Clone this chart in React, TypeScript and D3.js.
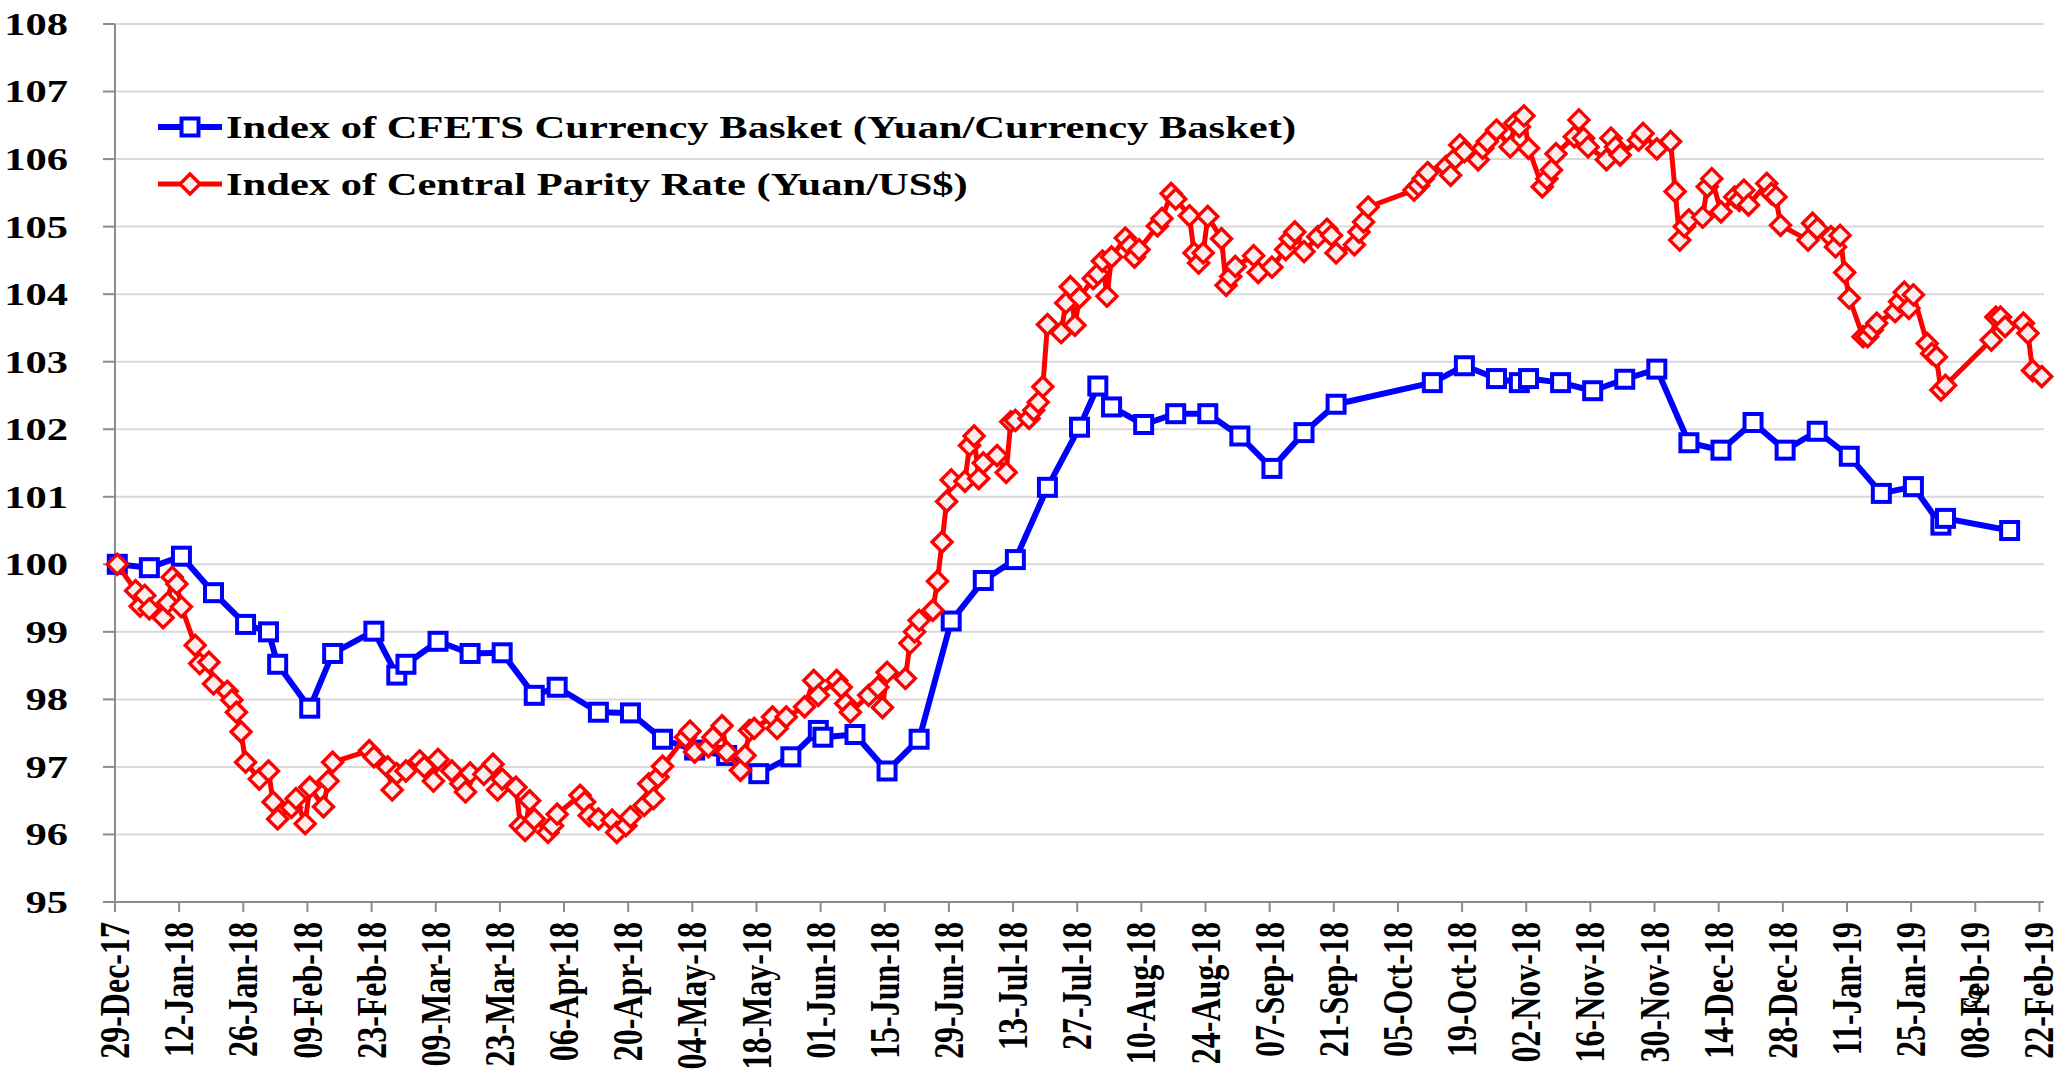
import React, { useEffect } from 'react';
import * as d3 from 'd3';

const W = 2063;
const H = 1069;

const yTickValues = [95, 96, 97, 98, 99, 100, 101, 102, 103, 104, 105, 106, 107, 108];
const xTickLabels = [
  '29-Dec-17', '12-Jan-18', '26-Jan-18', '09-Feb-18', '23-Feb-18', '09-Mar-18', '23-Mar-18', '06-Apr-18',
  '20-Apr-18', '04-May-18', '18-May-18', '01-Jun-18', '15-Jun-18', '29-Jun-18', '13-Jul-18', '27-Jul-18',
  '10-Aug-18', '24-Aug-18', '07-Sep-18', '21-Sep-18', '05-Oct-18', '19-Oct-18', '02-Nov-18', '16-Nov-18',
  '30-Nov-18', '14-Dec-18', '28-Dec-18', '11-Jan-19', '25-Jan-19', '08-Feb-19', '22-Feb-19',
];

const seriesNames = [
  'Index of CFETS Currency Basket (Yuan/Currency Basket)',
  'Index of Central Parity Rate (Yuan/US$)',
];

const cfetsDates = [
  '2017-12-29', '2018-01-05', '2018-01-12', '2018-01-19', '2018-01-26', '2018-01-31', '2018-02-02', '2018-02-09',
  '2018-02-14', '2018-02-23', '2018-02-28', '2018-03-02', '2018-03-09', '2018-03-16', '2018-03-23', '2018-03-30',
  '2018-04-04', '2018-04-13', '2018-04-20', '2018-04-27', '2018-05-04', '2018-05-11', '2018-05-18', '2018-05-25',
  '2018-05-31', '2018-06-01', '2018-06-08', '2018-06-15', '2018-06-22', '2018-06-29', '2018-07-06', '2018-07-13',
  '2018-07-20', '2018-07-27', '2018-07-31', '2018-08-03', '2018-08-10', '2018-08-17', '2018-08-24', '2018-08-31',
  '2018-09-07', '2018-09-14', '2018-09-21', '2018-10-12', '2018-10-19', '2018-10-26', '2018-10-31', '2018-11-02',
  '2018-11-09', '2018-11-16', '2018-11-23', '2018-11-30', '2018-12-07', '2018-12-14', '2018-12-21', '2018-12-28',
  '2019-01-04', '2019-01-11', '2019-01-18', '2019-01-25', '2019-01-31', '2019-02-01', '2019-02-15',
];
const cfetsValues = [
  100.0, 99.95, 100.12, 99.58, 99.11, 99.0, 98.52, 97.87,
  98.68, 99.01, 98.36, 98.52, 98.86, 98.68, 98.69, 98.06,
  98.18, 97.81, 97.8, 97.41, 97.25, 97.17, 96.9, 97.15,
  97.54, 97.44, 97.48, 96.94, 97.41, 99.16, 99.76, 100.07,
  101.14, 102.03, 102.64, 102.33, 102.07, 102.23, 102.23, 101.9,
  101.42, 101.95, 102.37, 102.69, 102.94, 102.75, 102.69, 102.75,
  102.69, 102.57, 102.74, 102.89, 101.8, 101.69, 102.1, 101.69,
  101.97, 101.6, 101.05, 101.15, 100.58, 100.68, 100.5,
];

const parityDates = [
  '2017-12-29', '2018-01-02', '2018-01-03', '2018-01-04', '2018-01-05', '2018-01-08', '2018-01-09', '2018-01-10',
  '2018-01-11', '2018-01-12', '2018-01-15', '2018-01-16', '2018-01-18', '2018-01-19', '2018-01-22', '2018-01-23',
  '2018-01-24', '2018-01-25', '2018-01-26', '2018-01-29', '2018-01-31', '2018-02-01', '2018-02-02', '2018-02-05',
  '2018-02-06', '2018-02-08', '2018-02-09', '2018-02-12', '2018-02-13', '2018-02-14', '2018-02-22', '2018-02-23',
  '2018-02-26', '2018-02-27', '2018-02-28', '2018-03-02', '2018-03-05', '2018-03-06', '2018-03-08', '2018-03-09',
  '2018-03-12', '2018-03-14', '2018-03-15', '2018-03-16', '2018-03-19', '2018-03-21', '2018-03-22', '2018-03-23',
  '2018-03-26', '2018-03-27', '2018-03-28', '2018-03-29', '2018-03-30', '2018-04-02', '2018-04-03', '2018-04-04',
  '2018-04-09', '2018-04-10', '2018-04-11', '2018-04-13', '2018-04-16', '2018-04-17', '2018-04-19', '2018-04-20',
  '2018-04-23', '2018-04-24', '2018-04-25', '2018-04-26', '2018-04-27', '2018-05-02', '2018-05-03', '2018-05-04',
  '2018-05-07', '2018-05-08', '2018-05-10', '2018-05-11', '2018-05-14', '2018-05-15', '2018-05-16', '2018-05-17',
  '2018-05-21', '2018-05-22', '2018-05-24', '2018-05-28', '2018-05-30', '2018-05-31', '2018-06-04', '2018-06-05',
  '2018-06-06', '2018-06-07', '2018-06-11', '2018-06-13', '2018-06-14', '2018-06-15', '2018-06-19', '2018-06-20',
  '2018-06-21', '2018-06-22', '2018-06-25', '2018-06-26', '2018-06-27', '2018-06-28', '2018-06-29', '2018-07-02',
  '2018-07-03', '2018-07-04', '2018-07-05', '2018-07-06', '2018-07-09', '2018-07-11', '2018-07-12', '2018-07-13',
  '2018-07-16', '2018-07-17', '2018-07-18', '2018-07-19', '2018-07-20', '2018-07-23', '2018-07-24', '2018-07-25',
  '2018-07-26', '2018-07-27', '2018-07-30', '2018-07-31', '2018-08-01', '2018-08-02', '2018-08-03', '2018-08-06',
  '2018-08-07', '2018-08-08', '2018-08-09', '2018-08-13', '2018-08-14', '2018-08-16', '2018-08-17', '2018-08-20',
  '2018-08-21', '2018-08-22', '2018-08-23', '2018-08-24', '2018-08-27', '2018-08-28', '2018-08-29', '2018-08-30',
  '2018-09-03', '2018-09-04', '2018-09-07', '2018-09-10', '2018-09-11', '2018-09-12', '2018-09-14', '2018-09-17',
  '2018-09-19', '2018-09-20', '2018-09-21', '2018-09-25', '2018-09-26', '2018-09-27', '2018-09-28', '2018-10-08',
  '2018-10-09', '2018-10-10', '2018-10-11', '2018-10-15', '2018-10-16', '2018-10-17', '2018-10-18', '2018-10-19',
  '2018-10-22', '2018-10-23', '2018-10-24', '2018-10-26', '2018-10-29', '2018-10-30', '2018-10-31', '2018-11-01',
  '2018-11-02', '2018-11-05', '2018-11-06', '2018-11-07', '2018-11-08', '2018-11-12', '2018-11-13', '2018-11-14',
  '2018-11-15', '2018-11-19', '2018-11-20', '2018-11-21', '2018-11-22', '2018-11-26', '2018-11-27', '2018-11-30',
  '2018-12-03', '2018-12-04', '2018-12-05', '2018-12-06', '2018-12-07', '2018-12-10', '2018-12-11', '2018-12-12',
  '2018-12-14', '2018-12-17', '2018-12-18', '2018-12-19', '2018-12-20', '2018-12-24', '2018-12-25', '2018-12-26',
  '2018-12-27', '2019-01-02', '2019-01-03', '2019-01-04', '2019-01-07', '2019-01-08', '2019-01-09', '2019-01-10',
  '2019-01-11', '2019-01-14', '2019-01-15', '2019-01-16', '2019-01-17', '2019-01-21', '2019-01-22', '2019-01-23',
  '2019-01-24', '2019-01-25', '2019-01-28', '2019-01-29', '2019-01-30', '2019-01-31', '2019-02-01', '2019-02-11',
  '2019-02-12', '2019-02-13', '2019-02-14', '2019-02-18', '2019-02-19', '2019-02-20', '2019-02-22',
];
const parityValues = [
  100.0, 99.61, 99.38, 99.54, 99.34, 99.21, 99.43, 99.81,
  99.71, 99.37, 98.8, 98.53, 98.55, 98.23, 98.12, 97.99,
  97.81, 97.52, 97.07, 96.82, 96.94, 96.48, 96.23, 96.4,
  96.53, 96.16, 96.7, 96.41, 96.79, 97.07, 97.24, 97.15,
  97.0, 96.66, 96.9, 96.94, 97.09, 97.0, 96.79, 97.11,
  96.94, 96.75, 96.63, 96.91, 96.89, 97.04, 96.66, 96.82,
  96.7, 96.13, 96.06, 96.5, 96.23, 96.03, 96.13, 96.3,
  96.58, 96.48, 96.28, 96.23, 96.21, 96.03, 96.13, 96.26,
  96.43, 96.75, 96.53, 96.85, 97.01, 97.44, 97.53, 97.22,
  97.3, 97.44, 97.61, 97.22, 96.95, 97.17, 97.54, 97.57,
  97.74, 97.57, 97.74, 97.89, 98.28, 98.06, 98.28, 98.18,
  97.94, 97.81, 98.06, 98.18, 97.88, 98.4, 98.31, 98.83,
  99.0, 99.17, 99.32, 99.75, 100.33, 100.93, 101.25, 101.23,
  101.76, 101.9, 101.27, 101.5, 101.61, 101.36, 102.11, 102.13,
  102.16, 102.28, 102.4, 102.63, 103.55, 103.43, 103.87, 104.11,
  103.54, 103.95, 104.23, 104.3, 104.49, 103.97, 104.55, 104.83,
  104.72, 104.55, 104.66, 105.01, 105.12, 105.49, 105.41, 105.16,
  104.61, 104.46, 104.61, 105.15, 104.82, 104.13, 104.26, 104.41,
  104.57, 104.32, 104.4, 104.66, 104.82, 104.92, 104.63, 104.85,
  104.96, 104.87, 104.61, 104.73, 104.92, 105.07, 105.29, 105.54,
  105.61, 105.71, 105.8, 105.89, 105.76, 106.01, 106.21, 106.11,
  105.99, 106.16, 106.26, 106.43, 106.18, 106.53, 106.48, 106.64,
  106.16, 105.59, 105.71, 105.84, 106.08, 106.33, 106.58, 106.31,
  106.18, 105.99, 106.31, 106.18, 106.06, 106.28, 106.38, 106.15,
  106.26, 105.52, 104.8, 105.0, 105.1, 105.14, 105.59, 105.71,
  105.22, 105.44, 105.39, 105.54, 105.32, 105.64, 105.49, 105.44,
  105.02, 104.8, 105.05, 104.97, 104.85, 104.7, 104.87, 104.32,
  103.94, 103.37, 103.37, 103.47, 103.57, 103.74, 103.89, 104.03,
  103.79, 103.99, 103.27, 103.12, 103.07, 102.58, 102.65, 103.32,
  103.66, 103.66, 103.52, 103.57, 103.42, 102.87, 102.78,
];

const FONT = '"Liberation Serif", "Times New Roman", serif';
const SX = 1.33; // horizontal stretch of the original picture's text

export default function App() {
  useEffect(() => {
    document.body.style.margin = '0';
    document.body.style.overflow = 'hidden';
  }, []);

  const parseISO = d3.timeParse('%Y-%m-%d');
  const parseTick = d3.timeParse('%d-%b-%y');

  const left = 115;
  const right = 2044;
  const top = 24;
  const bottom = 902;

  const x = d3
    .scaleTime()
    .domain([parseISO('2017-12-29') as Date, parseISO('2019-02-23') as Date])
    .range([left, right]);
  const y = d3.scaleLinear().domain([95, 108]).range([bottom, top]);

  const mid = (s: string) => d3.timeHour.offset(parseISO(s) as Date, 12);

  const cfets = cfetsDates.map((d, i) => ({ px: x(mid(d)), py: y(cfetsValues[i]) }));
  const parity = parityDates.map((d, i) => ({ px: x(mid(d)), py: y(parityValues[i]) }));

  const line = d3
    .line<{ px: number; py: number }>()
    .x((d) => d.px)
    .y((d) => d.py);

  const blue = '#0000FF';
  const red = '#FF0000';
  const sq = 17;
  const sqStroke = 4;
  const dm = 10;
  const dmStroke = 3.4;
  const diamond = (cx: number, cy: number) =>
    `M${cx},${cy - dm}L${cx + dm},${cy}L${cx},${cy + dm}L${cx - dm},${cy}Z`;

  const legendY1 = 127;
  const legendY2 = 184;

  return (
    <svg
      width={W}
      height={H}
      style={{ position: 'absolute', left: 0, top: 0, background: '#fff' }}
      fontFamily={FONT}
      fontWeight="bold"
    >
      <rect x={0} y={0} width={W} height={H} fill="#fff" />
      {/* gridlines */}
      {yTickValues.map((v) => (
        <line key={'g' + v} x1={left} x2={right} y1={y(v)} y2={y(v)} stroke="#D9D9D9" strokeWidth={2} />
      ))}
      {/* y axis */}
      <line x1={left} x2={left} y1={top} y2={bottom} stroke="#8C8C8C" strokeWidth={2} />
      {yTickValues.map((v) => (
        <line key={'yt' + v} x1={left - 12} x2={left} y1={y(v)} y2={y(v)} stroke="#8C8C8C" strokeWidth={2} />
      ))}
      {yTickValues.map((v) => (
        <text
          key={'yl' + v}
          transform={`translate(68,${y(v)}) scale(${SX},1)`}
          textAnchor="end"
          dy="0.34em"
          fontSize={32}
          fill="#000"
        >
          {v}
        </text>
      ))}
      {/* x axis */}
      <line x1={left} x2={right} y1={bottom} y2={bottom} stroke="#8C8C8C" strokeWidth={2} />
      {xTickLabels.map((lab) => {
        const tx = x(parseTick(lab) as Date);
        return (
          <g key={'xt' + lab}>
            <line x1={tx} x2={tx} y1={bottom} y2={bottom + 10} stroke="#8C8C8C" strokeWidth={2} />
            <text
              transform={`translate(${tx},922) scale(${SX},1) rotate(-90)`}
              textAnchor="end"
              dy="0.33em"
              fontSize={32}
              fill="#000"
            >
              {lab}
            </text>
          </g>
        );
      })}
      <text transform="translate(1962,1004) rotate(20)" fontSize={34} fontStyle="italic" fontWeight="normal" fill="#000">
        9
      </text>

      {/* CFETS series */}
      <path d={line(cfets) || ''} fill="none" stroke={blue} strokeWidth={6} strokeLinejoin="round" />
      {cfets.map((p, i) => (
        <rect
          key={'b' + i}
          x={p.px - sq / 2}
          y={p.py - sq / 2}
          width={sq}
          height={sq}
          fill="#fff"
          stroke={blue}
          strokeWidth={sqStroke}
        />
      ))}

      {/* Central parity series */}
      <path d={line(parity) || ''} fill="none" stroke={red} strokeWidth={5} strokeLinejoin="round" />
      {parity.map((p, i) => (
        <path key={'r' + i} d={diamond(p.px, p.py)} fill="#FBEDED" stroke={red} strokeWidth={dmStroke} />
      ))}

      {/* legend */}
      <line x1={158} x2={222} y1={legendY1} y2={legendY1} stroke={blue} strokeWidth={6} />
      <rect x={190 - sq / 2} y={legendY1 - sq / 2} width={sq} height={sq} fill="#fff" stroke={blue} strokeWidth={sqStroke} />
      <text transform={`translate(226,${legendY1}) scale(${SX},1)`} dy="0.34em" fontSize={32} fill="#000">
        {seriesNames[0]}
      </text>
      <line x1={158} x2={222} y1={legendY2} y2={legendY2} stroke={red} strokeWidth={5} />
      <path d={diamond(190, legendY2)} fill="#FBEDED" stroke={red} strokeWidth={dmStroke} />
      <text transform={`translate(226,${legendY2}) scale(${SX},1)`} dy="0.34em" fontSize={32} fill="#000">
        {seriesNames[1]}
      </text>
    </svg>
  );
}
